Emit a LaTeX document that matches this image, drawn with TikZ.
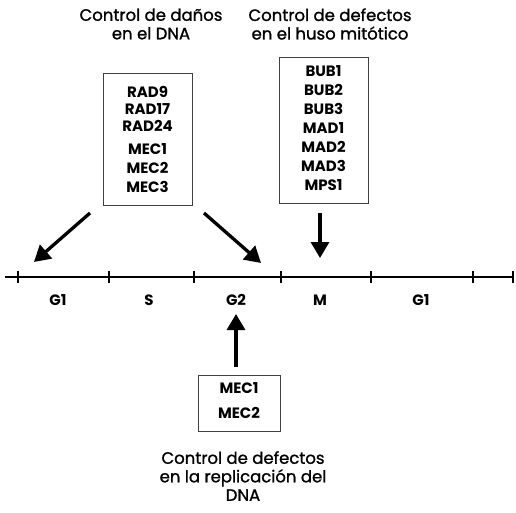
\documentclass[tikz,border=0pt]{standalone}
\usepackage{fontspec}
\setmainfont{Poppins}
\newfontfamily\titlefont[FakeBold=1.2]{Poppins}
\usetikzlibrary{arrows.meta}
\begin{document}
\begin{tikzpicture}[x=1pt,y=-1pt,
  title/.style={font=\titlefont\fontsize{16.5}{18.5}\selectfont, align=center, inner sep=0pt},
  genes/.style={font=\fontsize{15}{19}\selectfont\bfseries, align=center, inner sep=0pt},
  box/.style={draw=black!75, line width=0.8pt, inner sep=0pt},
  bigarrow/.style={line width=3.3pt, -{Triangle[length=16pt,width=18pt]}},
  phase/.style={font=\fontsize{15}{17}\selectfont\bfseries, inner sep=0pt}]
\useasboundingbox (0,0) rectangle (516,512);
% titles
\node[title] (t1) at (151,24) {Control de daños\\en el DNA};
\node[title] (t2) at (330,24) {Control de defectos\\en el huso mitótico};
\node[title] (t3) at (243,476) {Control de defectos\\en la replicación del\\DNA};
% boxes
\node[box, minimum width=89pt, minimum height=132pt] (b1) at (147.5,139) {};
\node[genes] (g1) at (147.5,139) {RAD9\\[-2pt]RAD17\\[-2pt]RAD24\\[4pt]MEC1\\MEC2\\MEC3};
\node[box, minimum width=89pt, minimum height=146pt] (b2) at (323.5,130) {};
\node[genes] (g2) at (323.5,128) {BUB1\\BUB2\\BUB3\\MAD1\\MAD2\\MAD3\\MPS1};
\node[box, minimum width=82pt, minimum height=56pt] (b3) at (239,403) {};
\node[genes] (g3) at (239,401) {MEC1\\[6pt]MEC2};
% timeline
\coordinate (l0) at (5,277);
\coordinate (l1) at (513,277);
\draw[line width=1.3pt] (l0) -- (l1);
\foreach \x/\n in {18/a,109/b,194/c,281/d,371/e,473/f,513/g}{
  \coordinate (k\n) at (\x,277);
  \draw[line width=1.3pt] ([yshift=6pt]k\n) -- ([yshift=-6pt]k\n);
}
\node[phase] (p1) at (58,300) {G1};
\node[phase] (p2) at (149,300) {S};
\node[phase] (p3) at (236,300) {G2};
\node[phase] (p4) at (320,300) {M};
\node[phase] (p5) at (421,300) {G1};
% arrows
\coordinate (a1s) at (90,213);
\coordinate (a1e) at (34,262);
\coordinate (a2s) at (204,213);
\coordinate (a2e) at (261,263);
\coordinate (a3s) at (320,213);
\coordinate (a3e) at (320,258);
\coordinate (a4s) at (236,367);
\coordinate (a4e) at (236,314);
\draw[bigarrow] (a1s) -- (a1e);
\draw[bigarrow] (a2s) -- (a2e);
\draw[bigarrow] (a3s) -- (a3e);
\draw[bigarrow] (a4s) -- (a4e);
\end{tikzpicture}
\end{document}
